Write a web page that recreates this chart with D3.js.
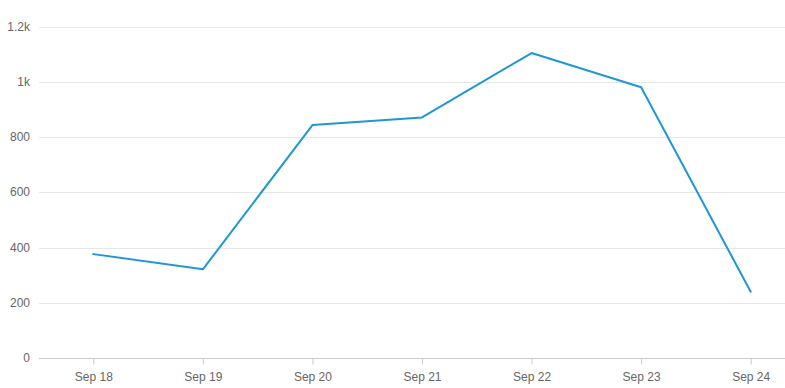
<!DOCTYPE html>
<html><head><meta charset="utf-8">
<script src="https://cdn.jsdelivr.net/npm/d3@7"></script>
<style>
html,body{margin:0;padding:0;background:#fff;}
svg{display:block;font-family:"Liberation Sans",Arial,sans-serif;}
</style></head>
<body>
<svg id="c" width="785" height="388"></svg>
<script>
const categories = ["Sep 18","Sep 19","Sep 20","Sep 21","Sep 22","Sep 23","Sep 24"];
const values = [376, 321, 843, 871, 1104, 980, 240];
const yTicks = [0, 200, 400, 600, 800, 1000, 1200];
const yTickLabels = ["0","200","400","600","800","1k","1.2k"];

(function(){
const svg = d3.select("#c");
const mLeft = 39, mRight = 785, mTop = 26.5, mBottom = 358;
const x = d3.scalePoint().domain(categories).range([93.3, 750.7]);
const y = d3.scaleLinear().domain([0, 1200]).range([mBottom, mTop]);

// gridlines
svg.append("g").selectAll("line").data(yTicks.filter(d=>d>0)).join("line")
  .attr("x1", mLeft).attr("x2", mRight)
  .attr("y1", d=>Math.round(y(d))+0.5).attr("y2", d=>Math.round(y(d))+0.5)
  .attr("stroke", "#e6e6e6").attr("stroke-width", 1);

// y labels
svg.append("g").selectAll("text").data(yTicks).join("text")
  .attr("x", 30).attr("y", d=>y(d)).attr("dy", "0.35em")
  .attr("text-anchor", "end").attr("fill", "#666").attr("font-size", 12)
  .text((d,i)=>yTickLabels[i]);

// x axis
const xAxis = svg.append("g").attr("transform", `translate(0,${mBottom+0.5})`)
  .call(d3.axisBottom(x).tickSize(6).tickPadding(8).tickSizeOuter(0));
xAxis.select(".domain").remove();
xAxis.append("line").attr("x1", mLeft).attr("x2", mRight).attr("stroke", "#ccc");
xAxis.selectAll(".tick line").attr("stroke", "#ccc");
xAxis.selectAll(".tick text").attr("fill", "#666").attr("font-size", 12)
  .attr("font-family", "Liberation Sans, Arial, sans-serif");

// line
const line = d3.line().x((d,i)=>x(categories[i])).y(d=>y(d));
svg.append("path").datum(values).attr("d", line)
  .attr("fill", "none").attr("stroke", "#1f97d4").attr("stroke-width", 2)
  .attr("stroke-linejoin", "round").attr("stroke-linecap", "round");
})();
</script>
</body></html>
